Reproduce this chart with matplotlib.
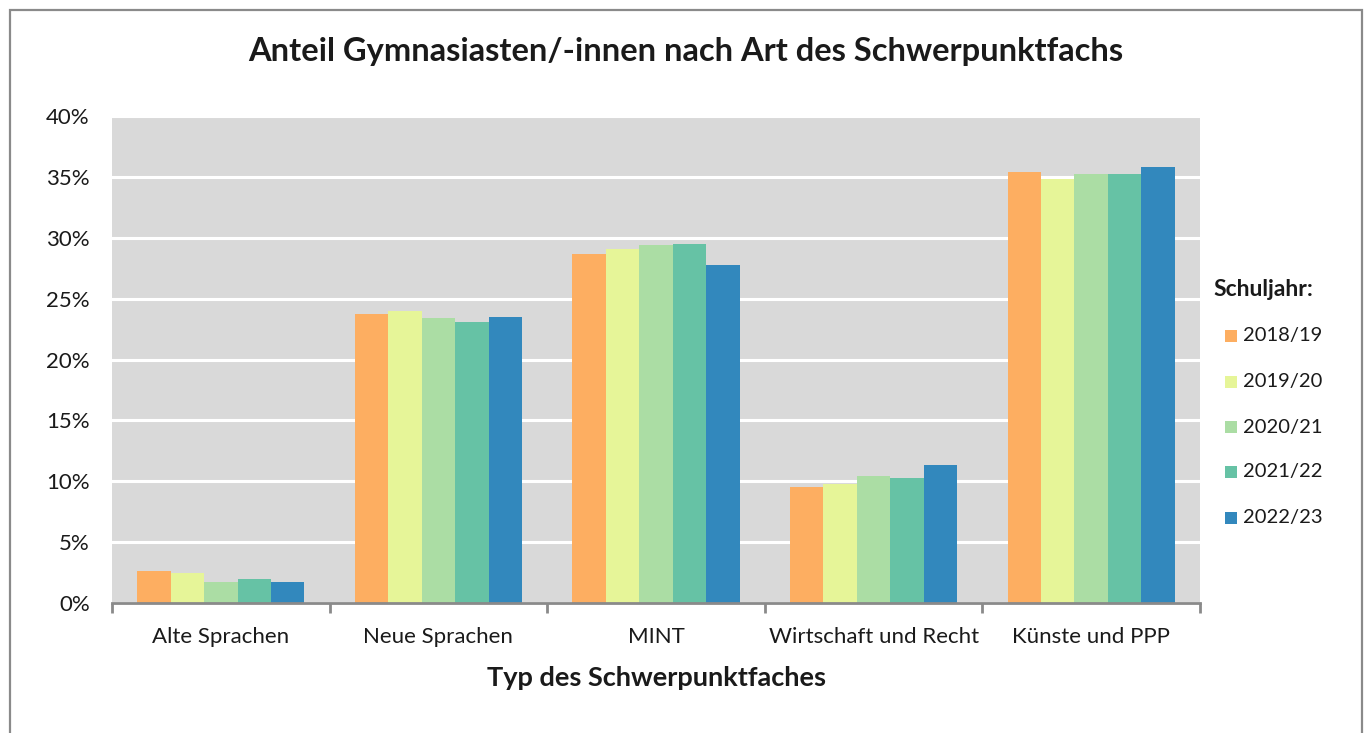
import matplotlib
matplotlib.use("Agg")
import matplotlib.pyplot as plt
from matplotlib.patches import Rectangle
import numpy as np

categories = ["Alte Sprachen", "Neue Sprachen", "MINT", "Wirtschaft und Recht", "Künste und PPP"]
years = ["2018/19", "2019/20", "2020/21", "2021/22", "2022/23"]
v_2018 = [2.65, 23.7, 28.7, 9.5, 35.4]
v_2019 = [2.45, 24.0, 29.1, 9.8, 34.8]
v_2020 = [1.75, 23.4, 29.4, 10.4, 35.2]
v_2021 = [1.95, 23.1, 29.5, 10.3, 35.2]
v_2022 = [1.75, 23.5, 27.8, 11.3, 35.8]
series = [v_2018, v_2019, v_2020, v_2021, v_2022]
colors = ["#FDAE61", "#E6F598", "#ABDDA4", "#66C2A5", "#3288BD"]
yticks = [0, 5, 10, 15, 20, 25, 30, 35, 40]

FONT = ["Lato", "DejaVu Sans"]
plt.rcParams["font.family"] = FONT
TXT = "#1a1a1a"

W, H = 1365, 733
fig = plt.figure(figsize=(W / 100, H / 100), dpi=100)
fig.patch.set_facecolor("white")

# outer chart border
fig.add_artist(Rectangle((10 / W, -0.01), (1362 - 10) / W, 1.01 - 10 / H,
                         transform=fig.transFigure, fill=False, edgecolor="#8a8a8a", lw=1.6))

ax = fig.add_axes([112 / W, 1 - 603 / H, (1200 - 112) / W, (603 - 116) / H])
ax.set_facecolor("#D9D9D9")

x = np.arange(len(categories))
bw = 0.1535
for j, (vals, c, lab) in enumerate(zip(series, colors, years)):
    ax.bar(x + (j - 2) * bw, vals, width=bw, color=c, label=lab, zorder=3, linewidth=0)

ax.set_xlim(-0.5, len(categories) - 0.5)
ax.set_ylim(0, 40)
ax.set_yticks(yticks)
ax.set_yticklabels([f"{t}%" for t in yticks], fontsize=16, color=TXT)
ax.yaxis.grid(True, color="white", lw=2.2, zorder=1)
ax.set_axisbelow(True)
ax.tick_params(axis="y", length=0, pad=16)

ax.set_xticks(x)
ax.set_xticklabels(categories, fontsize=16, color=TXT)
ax.tick_params(axis="x", length=0, pad=17)
ax.set_xticks(np.arange(-0.5, len(categories), 1.0), minor=True)
ax.tick_params(axis="x", which="minor", length=7, width=2, color="#8a8a8a")

for s in ["top", "right", "left"]:
    ax.spines[s].set_visible(False)
ax.spines["bottom"].set_color("#8a8a8a")
ax.spines["bottom"].set_linewidth(2)
ax.spines["bottom"].set_zorder(4)

ax.set_xlabel("Typ des Schwerpunktfaches", fontsize=19.5, fontweight="bold", color=TXT, labelpad=14)

fig.text(686 / W, 1 - 52 / H, "Anteil Gymnasiasten/-innen nach Art des Schwerpunktfachs",
         ha="center", va="center", fontsize=23.5, fontweight="bold", color=TXT)

# legend
fig.text(1213 / W, 1 - 290 / H, "Schuljahr:", ha="left", va="center",
         fontsize=16.5, fontweight="bold", color=TXT)
leg_y = [336, 382, 427, 472, 518]
for ly, c, lab in zip(leg_y, colors, years):
    fig.add_artist(Rectangle((1225 / W, 1 - (ly + 6) / H), 12 / W, 12 / H,
                             transform=fig.transFigure, facecolor=c, edgecolor="none"))
    fig.text(1243 / W, 1 - ly / H, lab, ha="left", va="center", fontsize=14.5, color=TXT)

fig.savefig("out.png", dpi=100)
